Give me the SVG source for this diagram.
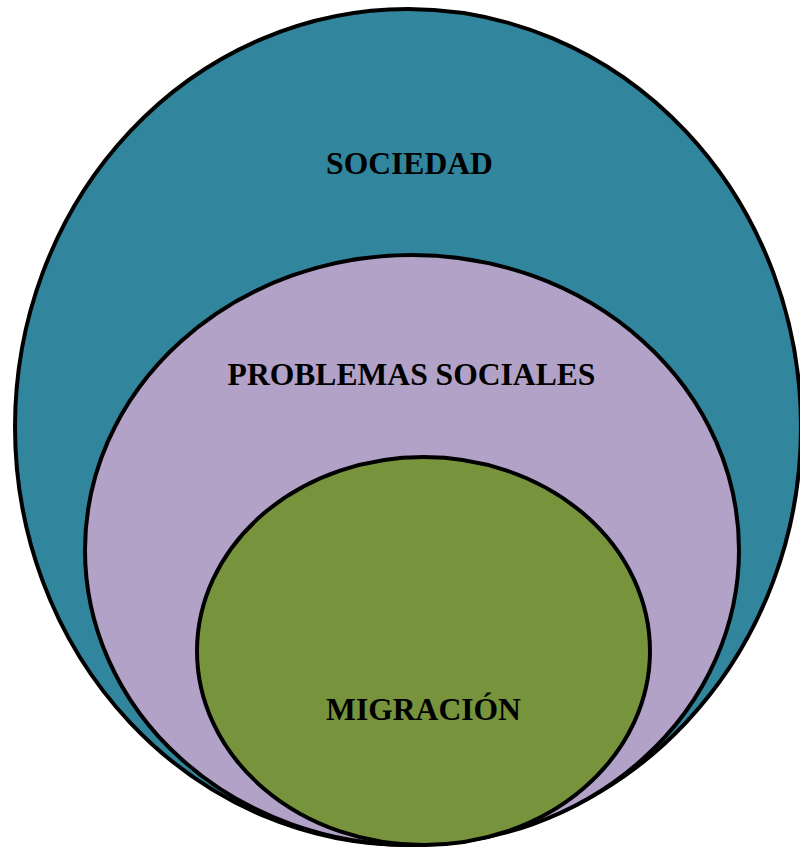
<svg xmlns="http://www.w3.org/2000/svg" width="800" height="850" viewBox="0 0 800 850">
<style>
.e{stroke:#000;stroke-width:4}
.t{font-family:"Liberation Serif","Times New Roman",serif;font-weight:bold;font-size:31.6px;fill:#000;text-anchor:middle}
</style>
<rect width="800" height="850" fill="#fff"/>
<g id="sociedad">
<ellipse class="e" cx="408" cy="427" rx="393" ry="418" fill="#31859C"/>
<text class="t" x="409.5" y="174">SOCIEDAD</text>
</g>
<g id="problemas">
<ellipse class="e" cx="412" cy="550" rx="327" ry="295" fill="#B3A2C7"/>
<text class="t" x="411.5" y="385">PROBLEMAS SOCIALES</text>
</g>
<g id="migracion">
<ellipse class="e" cx="423.5" cy="651" rx="226.5" ry="194" fill="#77933C"/>
<text class="t" x="423.5" y="720">MIGRACIÓN</text>
</g>
<g id="connectors"></g>
</svg>
